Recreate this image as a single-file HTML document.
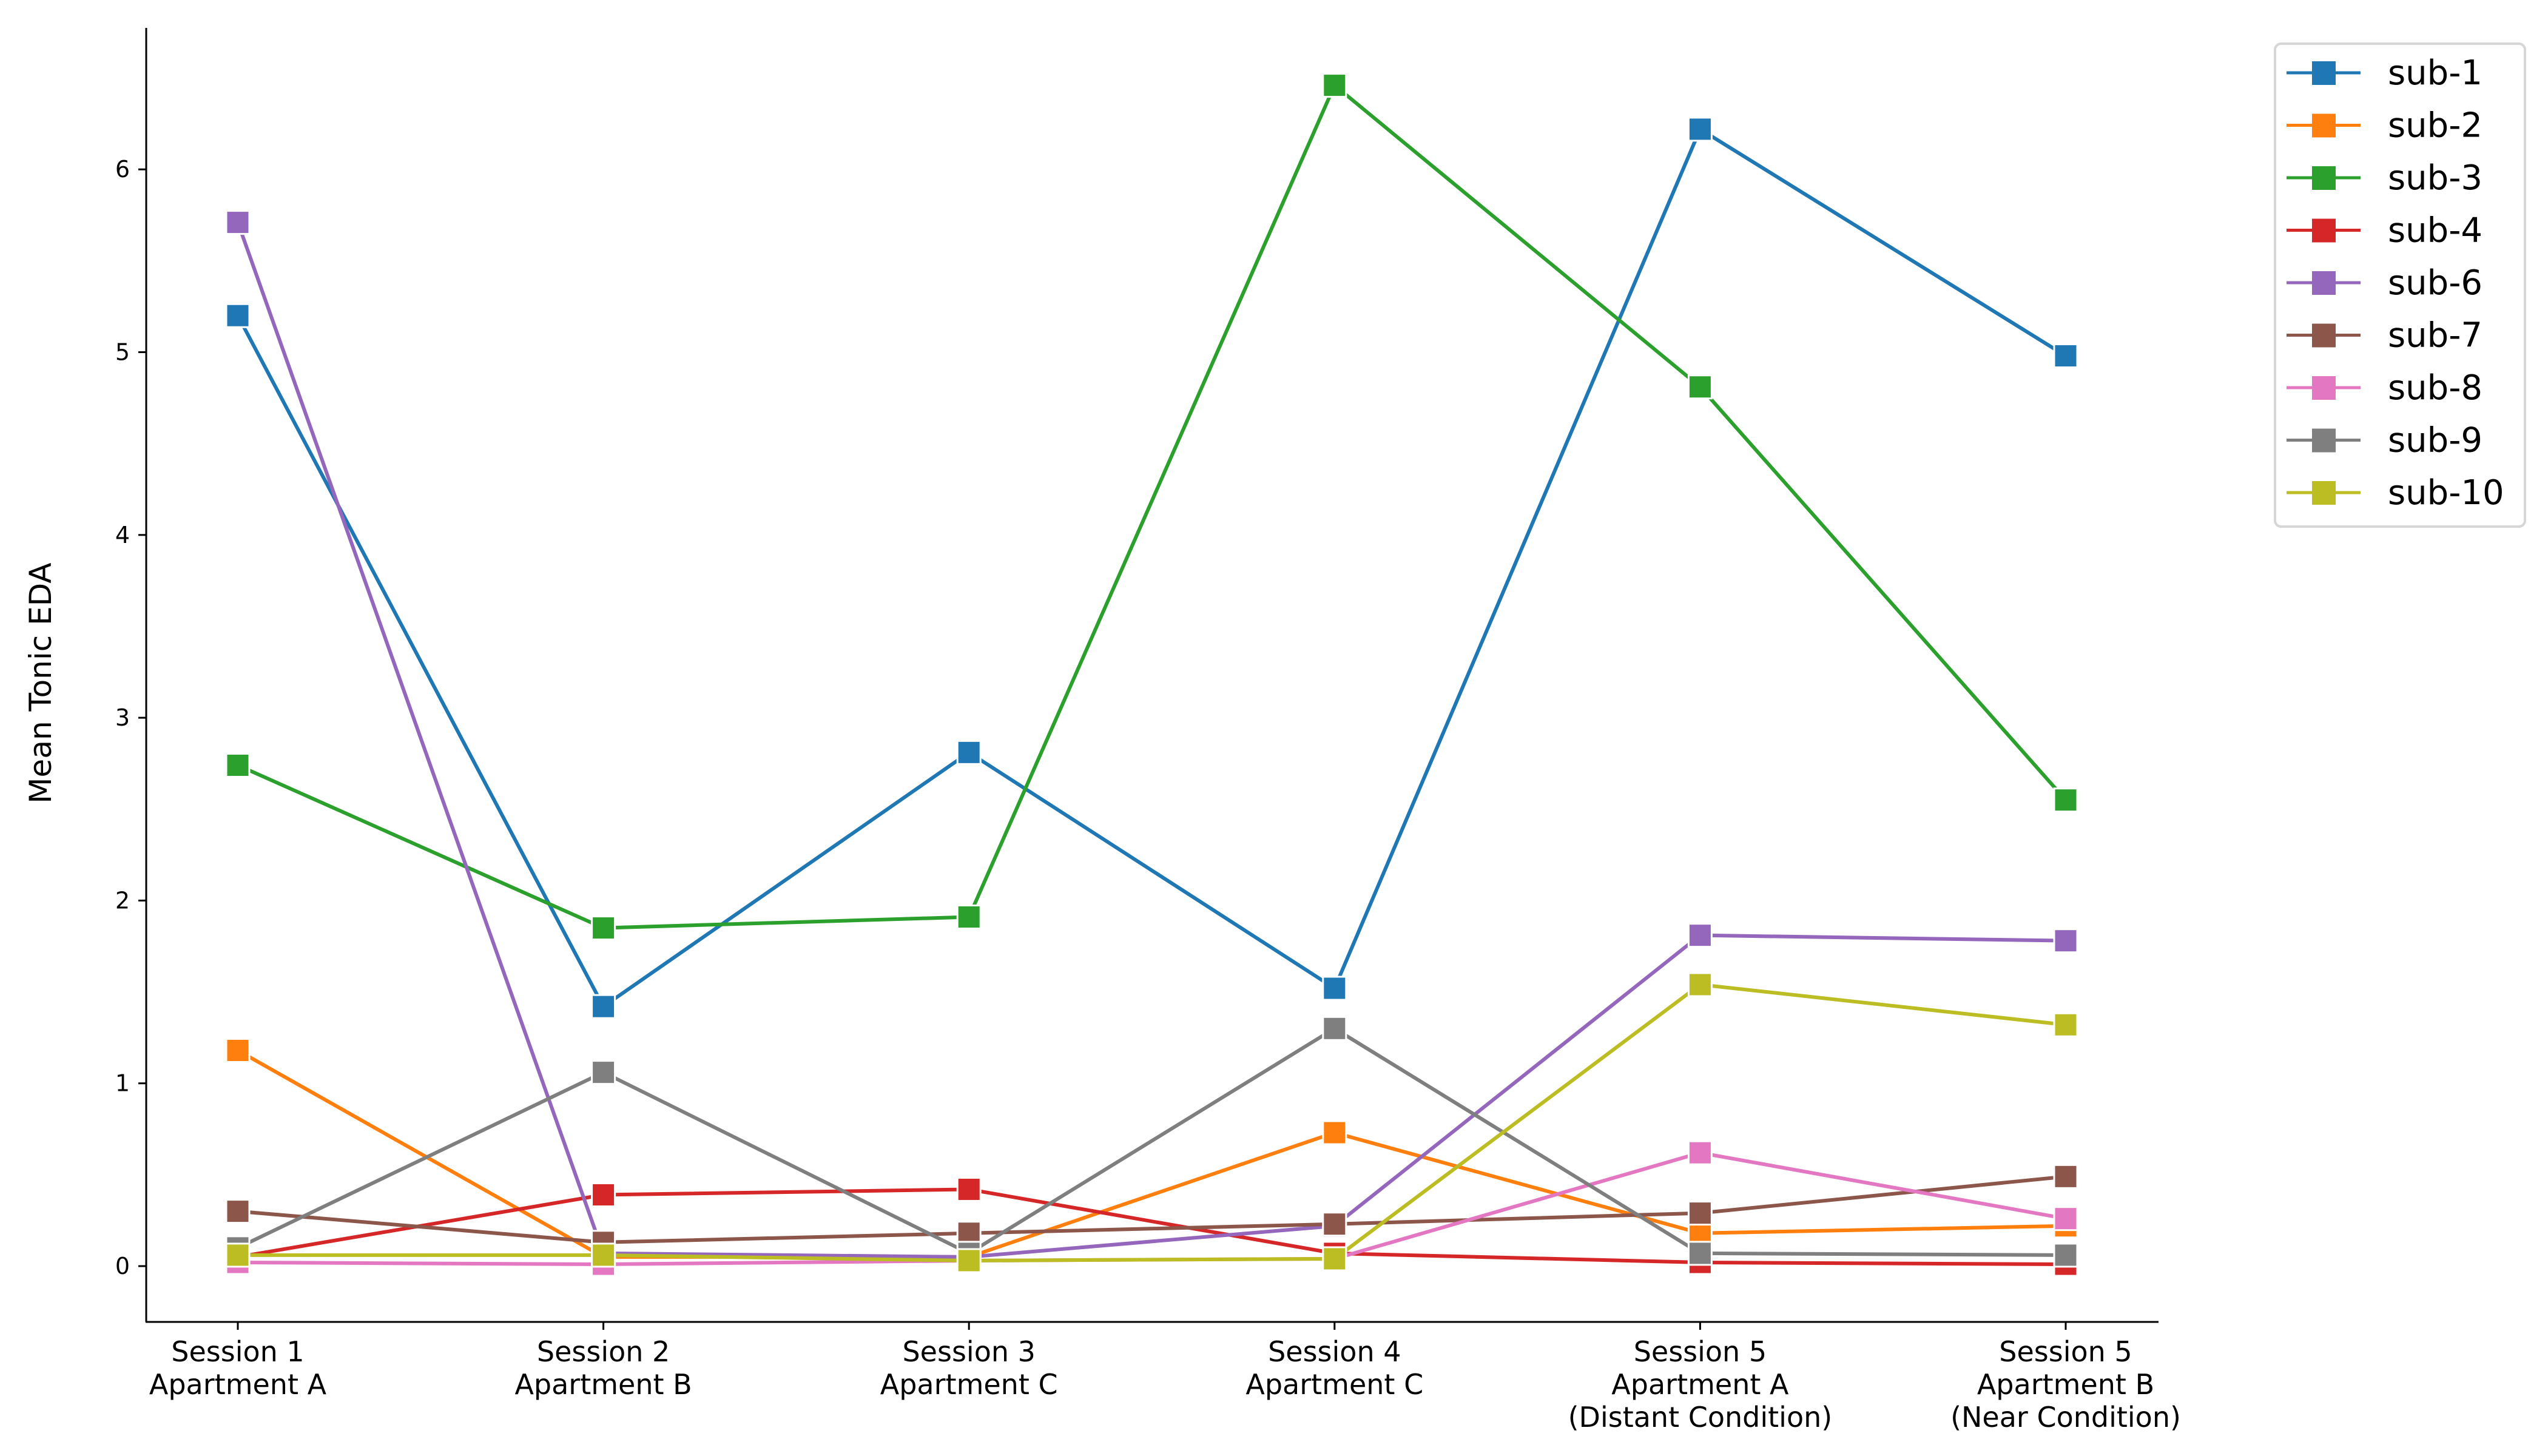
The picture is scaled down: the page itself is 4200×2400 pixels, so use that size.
<!DOCTYPE html>
<html><head><meta charset="utf-8"><style>
html,body{margin:0;padding:0;background:#fff;}
svg{display:block;font-family:"DejaVu Sans","Liberation Sans",sans-serif;}
</style></head><body>
<svg id="chart" width="4200" height="2400" viewBox="0 0 4200 2400">
<g id="axes"></g>
<g id="series"></g>
<g id="legend"></g>
</svg>
<script>
const categories = [["Session 1","Apartment A"],["Session 2","Apartment B"],["Session 3","Apartment C"],["Session 4","Apartment C"],["Session 5","Apartment A","(Distant Condition)"],["Session 5","Apartment B","(Near Condition)"]];
const yTicks = [0,1,2,3,4,5,6];
const seriesNames = ["sub-1","sub-2","sub-3","sub-4","sub-6","sub-7","sub-8","sub-9","sub-10"];
const sub1 = [5.20,1.42,2.81,1.52,6.22,4.98];
const sub2 = [1.18,0.05,0.05,0.73,0.18,0.22];
const sub3 = [2.74,1.85,1.91,6.46,4.81,2.55];
const sub4 = [0.05,0.39,0.42,0.07,0.02,0.01];
const sub6 = [5.71,0.07,0.05,0.22,1.81,1.78];
const sub7 = [0.30,0.13,0.18,0.23,0.29,0.49];
const sub8 = [0.02,0.01,0.03,0.04,0.62,0.26];
const sub9 = [0.10,1.06,0.07,1.30,0.07,0.06];
const sub10 = [0.06,0.06,0.03,0.04,1.54,1.32];
const seriesValues = [sub1,sub2,sub3,sub4,sub6,sub7,sub8,sub9,sub10];
const colors = ["#1f77b4","#ff7f0e","#2ca02c","#d62728","#9467bd","#8c564b","#e377c2","#7f7f7f","#bcbd22"];

const NS="http://www.w3.org/2000/svg";
const X0=392, DX=602.6, Y0=2087, DY=301.3;
const xs=i=>X0+i*DX, ys=v=>Y0-v*DY;
function mk(tag,attrs,parent){const e=document.createElementNS(NS,tag);for(const k in attrs)e.setAttribute(k,attrs[k]);parent.appendChild(e);return e;}
const axes=document.getElementById('axes');
let e=mk('line',{x1:241,y1:46,x2:241,y2:2179,stroke:'#000','stroke-width':3},axes);


e=mk('line',{x1:240,y1:2179,x2:3558,y2:2179,stroke:'#000','stroke-width':3},axes);


yTicks.forEach(t=>{
  const y=ys(t);
  let l=mk('line',{x1:228,y1:y,x2:241,y2:y,stroke:'#000','stroke-width':3},axes);
  
  
  let tx=mk('text',{x:214,y:y+13,'text-anchor':'end','font-size':38,fill:'#000'},axes);
  tx.textContent=t;
  
  
});
categories.forEach((c,i)=>{
  const x=xs(i);
  let l=mk('line',{x1:x,y1:2179,x2:x,y2:2192,stroke:'#000','stroke-width':3},axes);
  
  
  c.forEach((s,j)=>{
    let tx=mk('text',{x:x,y:2244+j*54,'text-anchor':'middle','font-size':46,fill:'#000'},axes);
    tx.textContent=s;
    
    
  });
});
let yt=mk('text',{x:0,y:0,transform:'translate(84,1126) rotate(-90)','text-anchor':'middle','font-size':50,fill:'#000'},axes);
yt.textContent='Mean Tonic EDA';



const sg=document.getElementById('series');
seriesValues.forEach((vals,si)=>{
  const g=mk('g',{},sg);
  
  
  const pts=vals.map((v,i)=>xs(i)+','+ys(v)).join(' ');
  const pl=mk('polyline',{points:pts,fill:'none',stroke:colors[si],'stroke-width':6,'stroke-linejoin':'round'},g);
  
  
  vals.forEach((v,i)=>{
    const r=mk('rect',{x:xs(i)-19,y:ys(v)-19,width:38,height:38,fill:colors[si],stroke:'#fff','stroke-width':3},g);
    
    
  });
});

const lg=document.getElementById('legend');
let box=mk('rect',{x:3750,y:72,width:412,height:796,rx:10,fill:'#fff',stroke:'#d6d6d6','stroke-width':4},lg);


seriesNames.forEach((n,i)=>{
  const y=120+i*86.5;
  const g=mk('g',{},lg);
  
  
  mk('line',{x1:3769,y1:y,x2:3891,y2:y,stroke:colors[i],'stroke-width':5},g);
  mk('rect',{x:3811,y:y-19,width:39,height:39,fill:colors[i]},g);
  const t=mk('text',{x:3936,y:y+19,'font-size':56,fill:'#000'},g);
  t.textContent=n;
});
</script>
</body></html>
